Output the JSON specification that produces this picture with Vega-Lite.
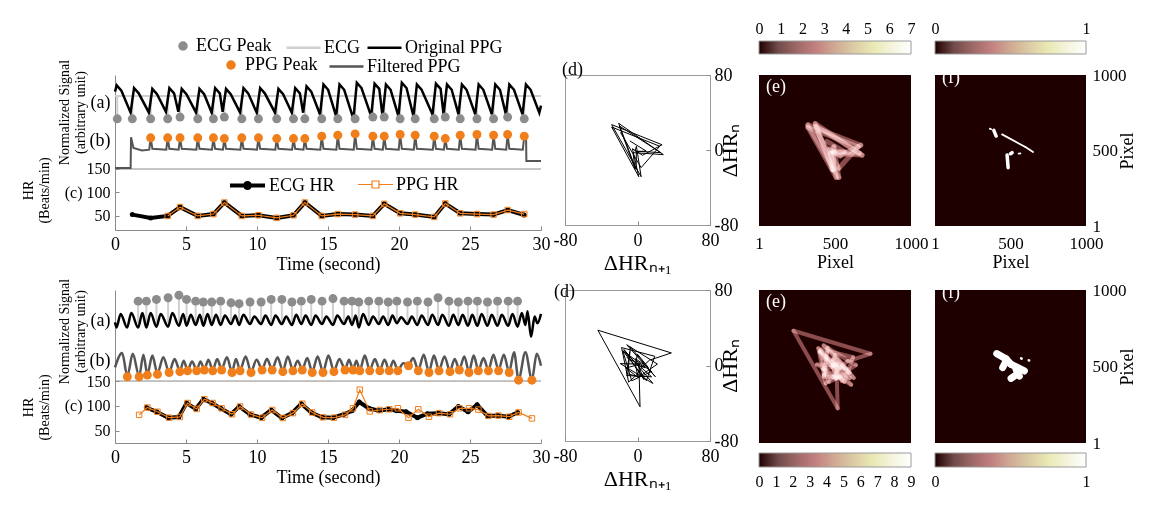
{
"$schema": "https://vega.github.io/schema/vega-lite/v6.json",
"padding": {"left": 21, "top": 20, "right": 5, "bottom": 5},
"background": "white",
"config": {
  "font": "Liberation Serif",
  "view": {"stroke": null},
  "axis": {"labelFont": "Liberation Serif", "titleFont": "Liberation Serif", "labelColor": "#000000", "titleColor": "#000000", "titleFontWeight": "normal", "domainColor": "#8a8a8a", "tickColor": "#8a8a8a", "grid": false, "labelFontSize": 16, "titleFontSize": 17, "labelFlush": false, "tickSize": -4, "labelPadding": 8},
  "legend": {"labelFont": "Liberation Serif", "labelFontSize": 18, "labelColor": "#000000"},
  "title": {"font": "Liberation Serif", "fontWeight": "normal", "fontSize": 18, "anchor": "start", "frame": "group", "color": "#000000"}
},
"datasets": {
  "sep": [{"t":0,"v":0},{"t":30,"v":0}],
  "e1ln": [{"t":0,"v":8.3},{"t":30,"v":8.3}],
  "e1pk": [{"t":0.16,"v":5.7},{"t":1.22,"v":5.7},{"t":2.51,"v":5.7},{"t":3.71,"v":5.7},{"t":4.58,"v":5.9},{"t":5.83,"v":5.7},{"t":6.93,"v":5.7},{"t":7.7,"v":5.9},{"t":8.93,"v":5.7},{"t":10.1,"v":5.7},{"t":11.39,"v":5.7},{"t":12.57,"v":5.7},{"t":13.37,"v":5.7},{"t":14.56,"v":5.7},{"t":15.69,"v":5.7},{"t":16.91,"v":5.7},{"t":18.16,"v":5.9},{"t":18.96,"v":5.9},{"t":20.08,"v":5.7},{"t":21.14,"v":5.7},{"t":22.48,"v":5.7},{"t":23.26,"v":5.9},{"t":24.31,"v":5.7},{"t":25.49,"v":5.7},{"t":26.66,"v":5.7},{"t":27.65,"v":5.9},{"t":28.82,"v":5.7}],
  "o1": [{"t":0,"v":8.8},{"t":0.12,"v":9.5},{"t":0.45,"v":8.9},{"t":1.1,"v":6.4},{"t":1.34,"v":9.2},{"t":1.67,"v":8.6},{"t":2.39,"v":6.4},{"t":2.63,"v":9.1},{"t":2.96,"v":8.5},{"t":3.59,"v":6.5},{"t":3.83,"v":9.2},{"t":4.16,"v":8.6},{"t":4.46,"v":6.5},{"t":4.7,"v":9.1},{"t":5.03,"v":8.5},{"t":5.71,"v":6.4},{"t":5.95,"v":9.1},{"t":6.28,"v":8.5},{"t":6.81,"v":6.4},{"t":7.05,"v":9.2},{"t":7.38,"v":8.6},{"t":7.58,"v":6.5},{"t":7.82,"v":9.1},{"t":8.15,"v":8.5},{"t":8.81,"v":6.4},{"t":9.05,"v":9.2},{"t":9.38,"v":8.6},{"t":9.98,"v":6.4},{"t":10.22,"v":9.2},{"t":10.55,"v":8.6},{"t":11.27,"v":6.4},{"t":11.51,"v":9.1},{"t":11.84,"v":8.5},{"t":12.45,"v":6.4},{"t":12.69,"v":9.2},{"t":13.02,"v":8.6},{"t":13.25,"v":6.4},{"t":13.49,"v":9.4},{"t":13.82,"v":8.8},{"t":14.44,"v":6.2},{"t":14.68,"v":9.6},{"t":15.01,"v":9.0},{"t":15.57,"v":6.0},{"t":15.81,"v":9.6},{"t":16.14,"v":9.0},{"t":16.79,"v":5.7},{"t":17.03,"v":9.8},{"t":17.36,"v":9.2},{"t":18.04,"v":6.0},{"t":18.28,"v":9.7},{"t":18.61,"v":9.1},{"t":18.84,"v":6.0},{"t":19.08,"v":9.6},{"t":19.41,"v":9.0},{"t":19.96,"v":6.0},{"t":20.2,"v":9.8},{"t":20.53,"v":9.2},{"t":21.02,"v":6.0},{"t":21.26,"v":9.6},{"t":21.59,"v":9.0},{"t":22.36,"v":6.2},{"t":22.6,"v":9.7},{"t":22.93,"v":9.1},{"t":23.14,"v":6.2},{"t":23.38,"v":9.6},{"t":23.71,"v":9.0},{"t":24.19,"v":6.2},{"t":24.43,"v":9.6},{"t":24.76,"v":9.0},{"t":25.37,"v":6.2},{"t":25.61,"v":9.6},{"t":25.94,"v":9.0},{"t":26.54,"v":6.2},{"t":26.78,"v":9.6},{"t":27.11,"v":9.0},{"t":27.53,"v":6.2},{"t":27.77,"v":9.6},{"t":28.1,"v":9.0},{"t":28.7,"v":6.2},{"t":28.94,"v":9.6},{"t":29.27,"v":9.0},{"t":29.88,"v":6.4},{"t":30,"v":7.2}],
  "f1": [{"t":0,"v":0.1},{"t":1.1,"v":0.1},{"t":1.13,"v":3.6},{"t":1.3,"v":2.4},{"t":1.9,"v":2.1},{"t":2.41,"v":2.2},{"t":2.51,"v":3.54},{"t":2.63,"v":2.3},{"t":3.61,"v":2.2},{"t":3.71,"v":3.54},{"t":3.83,"v":2.3},{"t":4.48,"v":2.2},{"t":4.58,"v":3.54},{"t":4.7,"v":2.3},{"t":5.73,"v":2.2},{"t":5.83,"v":3.54},{"t":5.95,"v":2.3},{"t":6.83,"v":2.2},{"t":6.93,"v":3.54},{"t":7.05,"v":2.3},{"t":7.6,"v":2.2},{"t":7.7,"v":3.46},{"t":7.82,"v":2.3},{"t":8.83,"v":2.2},{"t":8.93,"v":3.54},{"t":9.05,"v":2.3},{"t":10.0,"v":2.2},{"t":10.1,"v":3.54},{"t":10.22,"v":2.3},{"t":11.29,"v":2.2},{"t":11.39,"v":3.46},{"t":11.51,"v":2.3},{"t":12.47,"v":2.2},{"t":12.57,"v":3.46},{"t":12.69,"v":2.3},{"t":13.27,"v":2.2},{"t":13.37,"v":3.46},{"t":13.49,"v":2.3},{"t":14.46,"v":2.2},{"t":14.56,"v":3.73},{"t":14.68,"v":2.3},{"t":15.59,"v":2.2},{"t":15.69,"v":3.84},{"t":15.81,"v":2.3},{"t":16.81,"v":2.2},{"t":16.91,"v":3.99},{"t":17.03,"v":2.3},{"t":18.06,"v":2.2},{"t":18.16,"v":3.73},{"t":18.28,"v":2.3},{"t":18.86,"v":2.2},{"t":18.96,"v":3.73},{"t":19.08,"v":2.3},{"t":19.98,"v":2.2},{"t":20.08,"v":3.92},{"t":20.2,"v":2.3},{"t":21.04,"v":2.2},{"t":21.14,"v":3.84},{"t":21.26,"v":2.3},{"t":22.38,"v":2.2},{"t":22.48,"v":3.73},{"t":22.6,"v":2.3},{"t":23.16,"v":2.2},{"t":23.26,"v":3.46},{"t":23.38,"v":2.3},{"t":24.21,"v":2.2},{"t":24.31,"v":3.84},{"t":24.43,"v":2.3},{"t":25.39,"v":2.2},{"t":25.49,"v":3.92},{"t":25.61,"v":2.3},{"t":26.56,"v":2.2},{"t":26.66,"v":3.84},{"t":26.78,"v":2.3},{"t":27.55,"v":2.2},{"t":27.65,"v":3.92},{"t":27.77,"v":2.3},{"t":28.72,"v":2.2},{"t":28.82,"v":3.73},{"t":28.95,"v":3.5},{"t":28.97,"v":0.9},{"t":30,"v":0.9}],
  "p1pk": [{"t":2.51,"v":3.54},{"t":3.71,"v":3.54},{"t":4.58,"v":3.54},{"t":5.83,"v":3.54},{"t":6.93,"v":3.54},{"t":7.7,"v":3.46},{"t":8.93,"v":3.54},{"t":10.1,"v":3.54},{"t":11.39,"v":3.46},{"t":12.57,"v":3.46},{"t":13.37,"v":3.46},{"t":14.56,"v":3.73},{"t":15.69,"v":3.84},{"t":16.91,"v":3.99},{"t":18.16,"v":3.73},{"t":18.96,"v":3.73},{"t":20.08,"v":3.92},{"t":21.14,"v":3.84},{"t":22.48,"v":3.73},{"t":23.26,"v":3.46},{"t":24.31,"v":3.84},{"t":25.49,"v":3.92},{"t":26.66,"v":3.84},{"t":27.65,"v":3.92},{"t":28.82,"v":3.73}],
  "e2pk": [{"t":1.63,"v":9.4},{"t":2.21,"v":9.4},{"t":2.92,"v":9.6},{"t":3.74,"v":9.8},{"t":4.5,"v":10.1},{"t":5.04,"v":9.6},{"t":5.68,"v":9.4},{"t":6.22,"v":9.3},{"t":6.81,"v":9.3},{"t":7.44,"v":9.4},{"t":8.17,"v":9.2},{"t":8.74,"v":9.1},{"t":9.51,"v":9.3},{"t":10.29,"v":9.3},{"t":11.0,"v":9.6},{"t":11.75,"v":9.6},{"t":12.46,"v":9.3},{"t":13.12,"v":9.4},{"t":13.82,"v":9.6},{"t":14.58,"v":9.4},{"t":15.35,"v":9.7},{"t":16.13,"v":9.4},{"t":16.69,"v":9.4},{"t":17.17,"v":9.3},{"t":17.87,"v":9.4},{"t":18.58,"v":9.4},{"t":19.24,"v":9.3},{"t":19.85,"v":9.4},{"t":20.6,"v":9.3},{"t":21.29,"v":9.4},{"t":22.04,"v":9.3},{"t":22.75,"v":9.8},{"t":23.52,"v":9.4},{"t":24.18,"v":9.3},{"t":24.86,"v":9.4},{"t":25.52,"v":9.4},{"t":26.23,"v":9.3},{"t":26.94,"v":9.4},{"t":27.69,"v":9.4},{"t":28.35,"v":9.4}],
  "o2": [{"t":0,"v":6.9},{"t":0.1,"v":6.3},{"t":0.4,"v":7.9},{"t":0.85,"v":6.3},{"t":1.15,"v":8.0},{"t":1.63,"v":6.3},{"t":1.93,"v":8.0},{"t":2.21,"v":6.3},{"t":2.51,"v":8.0},{"t":2.92,"v":6.4},{"t":3.22,"v":7.9},{"t":3.74,"v":6.4},{"t":4.04,"v":8.0},{"t":4.5,"v":6.5},{"t":4.8,"v":7.9},{"t":5.04,"v":6.5},{"t":5.34,"v":7.8},{"t":5.68,"v":6.6},{"t":5.98,"v":7.8},{"t":6.22,"v":6.5},{"t":6.52,"v":7.9},{"t":6.81,"v":6.6},{"t":7.11,"v":7.8},{"t":7.44,"v":6.6},{"t":7.74,"v":7.7},{"t":8.17,"v":6.7},{"t":8.47,"v":7.7},{"t":8.74,"v":6.6},{"t":9.04,"v":7.8},{"t":9.51,"v":6.7},{"t":9.81,"v":7.6},{"t":10.29,"v":6.7},{"t":10.59,"v":7.7},{"t":11.0,"v":6.6},{"t":11.3,"v":7.7},{"t":11.75,"v":6.7},{"t":12.05,"v":7.6},{"t":12.46,"v":6.6},{"t":12.76,"v":7.8},{"t":13.12,"v":6.7},{"t":13.42,"v":7.7},{"t":13.82,"v":6.6},{"t":14.12,"v":7.7},{"t":14.58,"v":6.7},{"t":14.88,"v":7.6},{"t":15.35,"v":6.6},{"t":15.65,"v":7.7},{"t":16.13,"v":6.7},{"t":16.43,"v":7.6},{"t":16.69,"v":6.6},{"t":16.95,"v":7.7},{"t":17.17,"v":6.3},{"t":17.47,"v":7.9},{"t":17.87,"v":6.6},{"t":18.17,"v":7.6},{"t":18.58,"v":6.7},{"t":18.88,"v":7.6},{"t":19.24,"v":6.6},{"t":19.54,"v":7.7},{"t":19.85,"v":6.8},{"t":20.15,"v":7.5},{"t":20.6,"v":6.7},{"t":20.9,"v":7.6},{"t":21.29,"v":6.6},{"t":21.59,"v":7.7},{"t":22.04,"v":6.6},{"t":22.34,"v":7.8},{"t":22.75,"v":6.6},{"t":23.05,"v":7.8},{"t":23.52,"v":6.5},{"t":23.82,"v":7.8},{"t":24.18,"v":6.6},{"t":24.48,"v":7.8},{"t":24.86,"v":6.5},{"t":25.16,"v":7.8},{"t":25.52,"v":6.5},{"t":25.82,"v":7.9},{"t":26.23,"v":6.5},{"t":26.53,"v":7.8},{"t":26.94,"v":6.5},{"t":27.24,"v":7.8},{"t":27.69,"v":6.5},{"t":27.99,"v":7.9},{"t":28.35,"v":6.4},{"t":28.65,"v":8.0},{"t":28.9,"v":6.6},{"t":29.05,"v":8.2},{"t":29.3,"v":5.2},{"t":29.55,"v":7.6},{"t":29.75,"v":6.8},{"t":30,"v":7.9}],
  "f2": [{"t":0,"v":1.6},{"t":0.5,"v":3.3},{"t":0.87,"v":0.6},{"t":1.25,"v":3.2},{"t":1.7,"v":0.6},{"t":2.0,"v":3.1},{"t":2.28,"v":0.8},{"t":2.63,"v":3.0},{"t":2.99,"v":0.9},{"t":3.4,"v":2.8},{"t":3.81,"v":1.1},{"t":4.2,"v":2.6},{"t":4.57,"v":1.2},{"t":4.84,"v":2.4},{"t":5.11,"v":1.3},{"t":5.43,"v":2.3},{"t":5.75,"v":1.3},{"t":6.02,"v":2.3},{"t":6.29,"v":1.4},{"t":6.58,"v":2.5},{"t":6.88,"v":1.3},{"t":7.2,"v":2.6},{"t":7.51,"v":1.4},{"t":7.88,"v":2.8},{"t":8.24,"v":1.1},{"t":8.52,"v":2.6},{"t":8.81,"v":1.3},{"t":9.2,"v":2.9},{"t":9.58,"v":1.1},{"t":9.97,"v":2.5},{"t":10.36,"v":1.4},{"t":10.7,"v":2.6},{"t":11.07,"v":1.4},{"t":11.45,"v":2.8},{"t":11.82,"v":1.2},{"t":12.17,"v":2.9},{"t":12.53,"v":1.3},{"t":12.86,"v":2.4},{"t":13.19,"v":1.4},{"t":13.54,"v":2.7},{"t":13.89,"v":1.1},{"t":14.27,"v":2.9},{"t":14.65,"v":1.1},{"t":15.03,"v":3.0},{"t":15.42,"v":1.2},{"t":15.8,"v":2.6},{"t":16.2,"v":1.4},{"t":16.48,"v":2.5},{"t":16.76,"v":1.4},{"t":17.0,"v":2.4},{"t":17.24,"v":1.3},{"t":17.59,"v":3.0},{"t":17.94,"v":1.3},{"t":18.3,"v":2.6},{"t":18.65,"v":1.3},{"t":18.98,"v":2.5},{"t":19.31,"v":1.3},{"t":19.6,"v":2.4},{"t":19.92,"v":1.3},{"t":20.3,"v":2.1},{"t":20.67,"v":1.9},{"t":21.0,"v":2.7},{"t":21.36,"v":1.3},{"t":21.74,"v":3.1},{"t":22.11,"v":1.1},{"t":22.46,"v":3.0},{"t":22.82,"v":1.3},{"t":23.2,"v":2.9},{"t":23.59,"v":1.2},{"t":23.92,"v":2.6},{"t":24.25,"v":1.4},{"t":24.6,"v":2.9},{"t":24.93,"v":1.1},{"t":25.26,"v":3.0},{"t":25.59,"v":1.3},{"t":25.95,"v":2.7},{"t":26.3,"v":1.3},{"t":26.65,"v":3.1},{"t":27.01,"v":1.3},{"t":27.38,"v":3.1},{"t":27.76,"v":1.1},{"t":28.1,"v":3.4},{"t":28.42,"v":0.2},{"t":28.9,"v":3.4},{"t":29.36,"v":0.2},{"t":29.7,"v":3.2},{"t":30,"v":1.8}],
  "p2pk": [{"t":0.87,"v":0.5},{"t":1.7,"v":0.5},{"t":2.28,"v":0.7},{"t":2.99,"v":0.8},{"t":3.81,"v":1.0},{"t":4.57,"v":1.1},{"t":5.11,"v":1.2},{"t":5.75,"v":1.2},{"t":6.29,"v":1.3},{"t":6.88,"v":1.2},{"t":7.51,"v":1.3},{"t":8.24,"v":1.0},{"t":8.81,"v":1.2},{"t":9.58,"v":1.0},{"t":10.36,"v":1.3},{"t":11.07,"v":1.3},{"t":11.82,"v":1.1},{"t":12.53,"v":1.2},{"t":13.19,"v":1.3},{"t":13.89,"v":1.0},{"t":14.65,"v":1.0},{"t":15.42,"v":1.1},{"t":16.2,"v":1.3},{"t":16.76,"v":1.3},{"t":17.24,"v":1.2},{"t":17.94,"v":1.2},{"t":18.65,"v":1.2},{"t":19.31,"v":1.2},{"t":19.92,"v":1.2},{"t":20.67,"v":1.8},{"t":21.36,"v":1.2},{"t":22.11,"v":1.0},{"t":22.82,"v":1.2},{"t":23.59,"v":1.1},{"t":24.25,"v":1.3},{"t":24.93,"v":1.0},{"t":25.59,"v":1.2},{"t":26.3,"v":1.2},{"t":27.01,"v":1.2},{"t":27.76,"v":1.0},{"t":28.42,"v":0.1},{"t":29.36,"v":0.1}],
  "h1e": [{"t":1.22,"v":52.8},{"t":2.51,"v":45.8},{"t":3.71,"v":50},{"t":4.58,"v":68.8},{"t":5.83,"v":50},{"t":6.93,"v":54},{"t":7.7,"v":78.5},{"t":8.93,"v":50},{"t":10.1,"v":51.4},{"t":11.39,"v":45.8},{"t":12.57,"v":51.4},{"t":13.37,"v":78.5},{"t":14.56,"v":50},{"t":15.69,"v":54},{"t":16.91,"v":52.8},{"t":18.16,"v":50},{"t":18.96,"v":75.7},{"t":20.08,"v":55.6},{"t":21.14,"v":52.8},{"t":22.48,"v":47.9},{"t":23.26,"v":76.4},{"t":24.31,"v":55.6},{"t":25.49,"v":54},{"t":26.66,"v":52.8},{"t":27.65,"v":62.5},{"t":28.82,"v":52}],
  "h1p": [{"t":3.71,"v":50},{"t":4.58,"v":68.8},{"t":5.83,"v":50},{"t":6.93,"v":54},{"t":7.7,"v":78.5},{"t":8.93,"v":50},{"t":10.1,"v":51.4},{"t":11.39,"v":45.8},{"t":12.57,"v":51.4},{"t":13.37,"v":78.5},{"t":14.56,"v":50},{"t":15.69,"v":54},{"t":16.91,"v":52.8},{"t":18.16,"v":50},{"t":18.96,"v":75.7},{"t":20.08,"v":55.6},{"t":21.14,"v":52.8},{"t":22.48,"v":47.9},{"t":23.26,"v":76.4},{"t":24.31,"v":55.6},{"t":25.49,"v":54},{"t":26.66,"v":52.8},{"t":27.65,"v":62.5},{"t":28.82,"v":54}],
  "h2e": [{"t":2.21,"v":96.5},{"t":2.93,"v":88},{"t":3.74,"v":76},{"t":4.5,"v":77.5},{"t":5.04,"v":105.6},{"t":5.68,"v":93.7},{"t":6.22,"v":113.4},{"t":6.81,"v":105.6},{"t":7.44,"v":95},{"t":8.17,"v":83},{"t":8.74,"v":98.6},{"t":9.51,"v":82.4},{"t":10.29,"v":76},{"t":11.0,"v":91.5},{"t":11.75,"v":75.4},{"t":12.46,"v":85.2},{"t":13.12,"v":104.2},{"t":13.82,"v":86.6},{"t":14.58,"v":76.8},{"t":15.35,"v":76},{"t":16.13,"v":83},{"t":16.69,"v":90},{"t":17.2,"v":107.7},{"t":17.87,"v":95},{"t":18.58,"v":90},{"t":19.24,"v":93},{"t":19.85,"v":90},{"t":20.5,"v":88},{"t":21.3,"v":76},{"t":22.0,"v":84},{"t":22.75,"v":85.2},{"t":23.52,"v":83},{"t":24.18,"v":98.6},{"t":24.86,"v":88},{"t":25.5,"v":102},{"t":26.23,"v":79.6},{"t":26.94,"v":80.3},{"t":27.69,"v":78},{"t":28.35,"v":86.6}],
  "h2p": [{"t":1.7,"v":81.7},{"t":2.28,"v":96.5},{"t":2.99,"v":88},{"t":3.81,"v":76},{"t":4.57,"v":77.5},{"t":5.11,"v":105.6},{"t":5.75,"v":93.7},{"t":6.29,"v":113.4},{"t":6.88,"v":105.6},{"t":7.51,"v":95},{"t":8.24,"v":83},{"t":8.81,"v":98.6},{"t":9.58,"v":82.4},{"t":10.36,"v":76},{"t":11.07,"v":91.5},{"t":11.82,"v":75.4},{"t":12.53,"v":85.2},{"t":13.19,"v":104.2},{"t":13.89,"v":86.6},{"t":14.65,"v":76.8},{"t":15.42,"v":76},{"t":16.2,"v":81.7},{"t":16.76,"v":95},{"t":17.24,"v":132.4},{"t":17.94,"v":88.7},{"t":18.65,"v":91.5},{"t":19.31,"v":93},{"t":19.92,"v":95},{"t":20.67,"v":76},{"t":21.36,"v":93},{"t":22.11,"v":78},{"t":22.82,"v":85.2},{"t":23.59,"v":83},{"t":24.25,"v":95},{"t":24.93,"v":95},{"t":25.59,"v":92.3},{"t":26.3,"v":79.6},{"t":27.01,"v":80.3},{"t":27.76,"v":78},{"t":28.42,"v":86.6},{"t":29.36,"v":74.6}],
  "pc1": [{"x":-18.8,"y":18.8,"x2":4,"y2":-18.8},{"x":4,"y":-18.8,"x2":24.5,"y2":4},{"x":24.5,"y":4,"x2":-28.5,"y2":24.5},{"x":-28.5,"y":24.5,"x2":1.4,"y2":-28.5},{"x":1.4,"y":-28.5,"x2":-5.6,"y2":1.4},{"x":-5.6,"y":1.4,"x2":5.6,"y2":-5.6},{"x":5.6,"y":-5.6,"x2":27.1,"y2":5.6},{"x":27.1,"y":5.6,"x2":-28.5,"y2":27.1},{"x":-28.5,"y":27.1,"x2":4,"y2":-28.5},{"x":4,"y":-28.5,"x2":-1.2,"y2":4},{"x":-1.2,"y":4,"x2":-2.8,"y2":-1.2},{"x":-2.8,"y":-1.2,"x2":25.7,"y2":-2.8},{"x":25.7,"y":-2.8,"x2":-20.1,"y2":25.7},{"x":-20.1,"y":25.7,"x2":-2.8,"y2":-20.1},{"x":-2.8,"y":-20.1,"x2":-4.9,"y2":-2.8},{"x":-4.9,"y":-2.8,"x2":28.5,"y2":-4.9},{"x":28.5,"y":-4.9,"x2":-20.8,"y2":28.5},{"x":-20.8,"y":28.5,"x2":-1.6,"y2":-20.8},{"x":-1.6,"y":-20.8,"x2":-1.2,"y2":-1.6},{"x":-1.2,"y":-1.6,"x2":9.7,"y2":-1.2},{"x":9.7,"y":-1.2,"x2":-8.5,"y2":9.7}],
  "pc2": [{"x":-8.5,"y":14.8,"x2":-12,"y2":-8.5},{"x":-12,"y":-8.5,"x2":1.5,"y2":-12},{"x":1.5,"y":-12,"x2":22,"y2":1.5},{"x":22,"y":1.5,"x2":-11.9,"y2":22},{"x":-11.9,"y":22,"x2":19.7,"y2":-11.9},{"x":19.7,"y":-11.9,"x2":-7.8,"y2":19.7},{"x":-7.8,"y":19.7,"x2":-10.6,"y2":-7.8},{"x":-10.6,"y":-7.8,"x2":-12,"y2":-10.6},{"x":-12,"y":-10.6,"x2":15.6,"y2":-12},{"x":15.6,"y":-12,"x2":-16.2,"y2":15.6},{"x":-16.2,"y":15.6,"x2":-6.4,"y2":-16.2},{"x":-6.4,"y":-16.2,"x2":15.5,"y2":-6.4},{"x":15.5,"y":-6.4,"x2":-16.1,"y2":15.5},{"x":-16.1,"y":15.5,"x2":9.8,"y2":-16.1},{"x":9.8,"y":-16.1,"x2":19,"y2":9.8},{"x":19,"y":9.8,"x2":-17.6,"y2":19},{"x":-17.6,"y":19,"x2":-9.8,"y2":-17.6},{"x":-9.8,"y":-17.6,"x2":-0.8,"y2":-9.8},{"x":-0.8,"y":-9.8,"x2":5.7,"y2":-0.8},{"x":5.7,"y":-0.8,"x2":13.3,"y2":5.7},{"x":13.3,"y":5.7,"x2":37.4,"y2":13.3},{"x":37.4,"y":13.3,"x2":-43.7,"y2":37.4},{"x":-43.7,"y":37.4,"x2":2.8,"y2":-43.7},{"x":2.8,"y":-43.7,"x2":1.5,"y2":2.8},{"x":1.5,"y":2.8,"x2":2,"y2":1.5},{"x":2,"y":1.5,"x2":-19,"y2":2},{"x":-19,"y":2,"x2":17,"y2":-19},{"x":17,"y":-19,"x2":-15,"y2":17},{"x":-15,"y":17,"x2":7.2,"y2":-15},{"x":7.2,"y":-15,"x2":-2.2,"y2":7.2},{"x":-2.2,"y":7.2,"x2":12,"y2":-2.2},{"x":12,"y":-2.2,"x2":0,"y2":12},{"x":0,"y":12,"x2":-2.7,"y2":0},{"x":-2.7,"y":0,"x2":-12.7,"y2":-2.7},{"x":-12.7,"y":-2.7,"x2":0.7,"y2":-12.7},{"x":0.7,"y":-12.7,"x2":-2.3,"y2":0.7},{"x":-2.3,"y":0.7,"x2":8.6,"y2":-2.3},{"x":8.6,"y":-2.3,"x2":-12,"y2":8.6}],
  "fa_thin": [{"x":-8.9,"y":17.1,"x2":15.8,"y2":3.7},{"x":15.8,"y":3.7,"x2":23.9,"y2":-1.6},{"x":8.7,"y":-3.4,"x2":10.5,"y2":-3.0},{"x":-21.9,"y":23.1,"x2":-20.5,"y2":22.5}],
  "fa_thick": [{"x":-17.7,"y":21.3,"x2":-15.2,"y2":15.3},{"x":-3.6,"y":-4.8,"x2":-2.5,"y2":-18.2},{"x":0,"y":-3.4,"x2":1.7,"y2":-2.3}],
  "fb_thick": [{"x":-14.6,"y":13.5,"x2":-4.7,"y2":8},{"x":-4.7,"y":8,"x2":0.6,"y2":2.3},{"x":-8.3,"y":-1.2,"x2":-5,"y2":5},{"x":0.6,"y":2.3,"x2":14.7,"y2":-4.7},{"x":5.9,"y":-3,"x2":9.4,"y2":-10},{"x":0.6,"y":-12.4,"x2":4,"y2":-10}],
  "fb_thin": [{"x":11.2,"y":8.6,"x2":11.8,"y2":8.2},{"x":19.3,"y":6.5,"x2":19.8,"y2":6.3}],
  "cb7": [{"lo":0,"hi":7}],
  "cb9": [{"lo":0,"hi":9}],
  "cb1": [{"lo":0,"hi":1}]
},
"concat": [
  {"width": 1, "height": 1, "data": {"values": []}, "mark": "point"},
  {"width": 1, "height": 1, "data": {"values": []}, "mark": "point"},
  {"width": 1, "height": 1, "data": {"values": []}, "mark": "point"},
  {
    "width": 152, "height": 13,
    "data": {"name": "cb7"},
    "mark": {"type": "rect", "stroke": "#9a9a9a", "strokeWidth": 1, "fill": {"gradient": "linear", "x1": 0, "x2": 1, "y1": 0, "y2": 0, "stops": [{"offset": 0, "color": "#1e0000"}, {"offset": 0.125, "color": "#714a4a"}, {"offset": 0.25, "color": "#9f6868"}, {"offset": 0.375, "color": "#c38080"}, {"offset": 0.5, "color": "#d0aa93"}, {"offset": 0.625, "color": "#dccca5"}, {"offset": 0.75, "color": "#e9e9b4"}, {"offset": 0.875, "color": "#f4f4dd"}, {"offset": 1, "color": "#ffffff"}]}},
    "encoding": {
      "x": {"field": "lo", "type": "quantitative", "scale": {"domain": [0, 7], "nice": false, "zero": false}, "axis": {"orient": "top", "values": [0,1,2,3,4,5,6,7], "format": "d", "labelFlush": false, "title": null, "domain": false, "ticks": false, "labelFontSize": 16, "labelPadding": 5}},
      "x2": {"field": "hi"}
    }
  },
  {
    "width": 151, "height": 13,
    "data": {"name": "cb1"},
    "mark": {"type": "rect", "stroke": "#9a9a9a", "strokeWidth": 1, "fill": {"gradient": "linear", "x1": 0, "x2": 1, "y1": 0, "y2": 0, "stops": [{"offset": 0, "color": "#1e0000"}, {"offset": 0.125, "color": "#714a4a"}, {"offset": 0.25, "color": "#9f6868"}, {"offset": 0.375, "color": "#c38080"}, {"offset": 0.5, "color": "#d0aa93"}, {"offset": 0.625, "color": "#dccca5"}, {"offset": 0.75, "color": "#e9e9b4"}, {"offset": 0.875, "color": "#f4f4dd"}, {"offset": 1, "color": "#ffffff"}]}},
    "encoding": {
      "x": {"field": "lo", "type": "quantitative", "scale": {"domain": [0, 1], "nice": false, "zero": false}, "axis": {"orient": "top", "values": [0, 1], "format": "d", "labelFlush": false, "title": null, "domain": false, "ticks": false, "labelFontSize": 16, "labelPadding": 5}},
      "x2": {"field": "hi"}
    }
  },

  {"width": 1, "height": 1, "data": {"values": []}, "mark": "point"},
  {"width": 1, "height": 1, "data": {"values": []}, "mark": "point"},
  {"width": 1, "height": 1, "data": {"values": []}, "mark": "point"},
  {"width": 1, "height": 1, "data": {"values": []}, "mark": "point"},
  {"width": 1, "height": 1, "data": {"values": []}, "mark": "point"},

  {
    "width": 426, "height": 155,
    "layer": [
      {
        "encoding": {
          "x": {"field": "t", "type": "quantitative", "scale": {"domain": [0, 30], "nice": false, "zero": false}, "axis": {"values": [0,5,10,15,20,25,30], "labelFlush": false, "title": "Time (second)", "labelFontSize": 18, "titleFontSize": 18, "labelPadding": 9, "titlePadding": 2}},
          "y": {"field": "v", "type": "quantitative", "scale": {"domain": [-6.93, 10.68], "nice": false, "zero": false}, "axis": {"orient": "left", "values": [7.5, 3.2], "labelExpr": "datum.value > 5 ? '(a)' : '(b)'", "labelFontSize": 18, "ticks": false, "domain": false, "labelPadding": 5, "title": ["Normalized Signal", "(arbitrary unit)"], "titleFontSize": 14, "titlePadding": 2, "titleY": 37}}
        },
        "layer": [
          {"data": {"name": "sep"}, "mark": {"type": "line", "strokeWidth": 1, "color": "#8a8a8a"}, "encoding": {}},
          {"data": {"name": "e1ln"}, "mark": {"type": "line", "strokeWidth": 2},
           "encoding": {"stroke": {"datum": "ECG", "type": "nominal", "scale": {"domain": ["ECG", "Original PPG"], "range": ["#cfcfcf", "#000000"]},
             "legend": {"orient": "none", "legendX": 170, "legendY": -46, "direction": "horizontal", "title": null, "symbolType": "stroke", "symbolSize": 1156, "symbolStrokeWidth": 2.5, "labelOffset": 2, "columnPadding": 2, "labelFontSize": 18}}}},
          {"data": {"name": "e1pk"}, "mark": {"type": "rule", "color": "#cfcfcf", "strokeWidth": 2}, "encoding": {"y2": {"datum": 8.3}}},
          {"data": {"name": "o1"}, "mark": {"type": "line", "strokeWidth": 2.5},
           "encoding": {"stroke": {"datum": "Original PPG", "type": "nominal", "scale": {"domain": ["ECG", "Original PPG"], "range": ["#cfcfcf", "#000000"]}}}},
          {"data": {"name": "f1"}, "mark": {"type": "line", "strokeWidth": 2},
           "encoding": {"color": {"datum": "Filtered PPG", "type": "nominal", "scale": {"domain": ["Filtered PPG"], "range": ["#555555"]},
             "legend": {"orient": "none", "legendX": 213, "legendY": -27, "direction": "horizontal", "title": null, "symbolType": "stroke", "symbolSize": 1156, "symbolStrokeWidth": 2.5, "labelOffset": 2, "labelFontSize": 18}}}},
          {"data": {"name": "e1pk"}, "mark": {"type": "point", "filled": true, "size": 80, "opacity": 1},
           "encoding": {"fill": {"datum": "ECG Peak", "type": "nominal", "scale": {"domain": ["ECG Peak"], "range": ["#8c8c8c"]},
             "legend": {"orient": "none", "legendX": 59, "legendY": -38, "direction": "horizontal", "title": null, "symbolType": "circle", "symbolSize": 90, "symbolStrokeWidth": 0, "labelOffset": 4, "labelFontSize": 18}}}},
          {"data": {"name": "p1pk"}, "mark": {"type": "point", "filled": true, "color": "#f07e1b", "size": 80, "opacity": 1},
           "encoding": {"shape": {"datum": "PPG Peak", "type": "nominal", "scale": {"domain": ["PPG Peak"], "range": ["circle"]},
             "legend": {"orient": "none", "legendX": 107, "legendY": -19, "direction": "horizontal", "title": null, "symbolSize": 90, "symbolFillColor": "#f07e1b", "symbolStrokeWidth": 0, "labelOffset": 5, "labelFontSize": 18}}}}
        ]
      },
      {
        "encoding": {
          "x": {"field": "t", "type": "quantitative", "scale": {"domain": [0, 30], "nice": false, "zero": false}, "axis": {"values": [0,5,10,15,20,25,30], "labelFlush": false, "title": "Time (second)", "labelFontSize": 18, "titleFontSize": 18, "labelPadding": 9, "titlePadding": 2}},
          "y": {"field": "v", "type": "quantitative", "scale": {"domain": [20, 350.3], "nice": false, "zero": false}, "axis": {"orient": "left", "values": [50, 100, 150], "labelExpr": "datum.value == 100 ? '(c) 100' : datum.label", "labelFontSize": 16, "labelPadding": 9, "title": ["HR", "(Beats/min)"], "titleFontSize": 14, "titlePadding": 13, "titleY": 115}}
        },
        "layer": [
          {"data": {"name": "h1e"}, "mark": {"type": "line", "strokeWidth": 4},
           "encoding": {"color": {"datum": "ECG HR", "type": "nominal", "scale": {"domain": ["ECG HR"], "range": ["#000000"]},
             "legend": {"orient": "none", "legendX": 113, "legendY": 91, "direction": "horizontal", "title": null, "symbolType": "M-1,0H1M0.14,0A0.14,0.14,0,1,1,-0.14,0A0.14,0.14,0,1,1,0.14,0", "symbolSize": 1225, "symbolStrokeWidth": 4, "labelOffset": 2, "labelFontSize": 18}}}},
          {"data": {"name": "h1e"}, "mark": {"type": "point", "filled": true, "size": 25, "opacity": 1},
           "encoding": {"color": {"datum": "ECG HR", "type": "nominal", "scale": {"domain": ["ECG HR"], "range": ["#000000"]}}}},
          {"data": {"name": "h1p"}, "mark": {"type": "line", "strokeWidth": 1.2},
           "encoding": {"stroke": {"datum": "PPG HR", "type": "nominal", "scale": {"domain": ["PPG HR"], "range": ["#f07e1b"]},
             "legend": {"orient": "none", "legendX": 242, "legendY": 91, "direction": "horizontal", "title": null, "symbolType": "M-1,0H-0.2M0.2,0H1M-0.2,-0.2H0.2V0.2H-0.2Z", "symbolSize": 1225, "symbolStrokeWidth": 1.2, "labelOffset": 2, "labelFontSize": 18}}}},
          {"data": {"name": "h1p"}, "mark": {"type": "point", "shape": "square", "filled": false, "size": 30, "strokeWidth": 1, "opacity": 1},
           "encoding": {"stroke": {"datum": "PPG HR", "type": "nominal", "scale": {"domain": ["PPG HR"], "range": ["#f07e1b"]}}}}
        ]
      }
    ],
    "resolve": {"scale": {"y": "independent", "color": "independent", "stroke": "independent"}, "legend": {"color": "independent", "stroke": "independent"}}
  },
  {
    "width": 145, "height": 150,
    "title": {"text": "(d)", "offset": -13, "dx": -3},
    "view": {"stroke": "#9a9a9a"},
    "data": {"name": "pc1"},
    "mark": {"type": "rule", "color": "#000000", "strokeWidth": 1},
    "encoding": {
      "x": {"field": "x", "type": "quantitative", "scale": {"domain": [-80, 80], "nice": false, "zero": false}, "axis": {"values": [-80, 0, 80], "labelExpr": "datum.value < 0 ? '-80' : datum.label", "labelFlush": false, "domain": false, "labelFontSize": 18, "labelPadding": 10, "title": "ΔHRₙ₊₁", "titleFontSize": 22, "titlePadding": 3}},
      "y": {"field": "y", "type": "quantitative", "scale": {"domain": [-80, 80], "nice": false, "zero": false}, "axis": {"orient": "right", "values": [-80, 0, 80], "labelExpr": "datum.value < 0 ? '-80' : datum.label", "labelFlush": false, "domain": false, "labelFontSize": 18, "labelPadding": 8, "title": "ΔHRₙ", "titleFontSize": 22, "titleAngle": 270, "titlePadding": 4}},
      "x2": {"field": "x2"}, "y2": {"field": "y2"}
    }
  },
  {"width": 1, "height": 1, "data": {"values": []}, "mark": "point"},
  {
    "width": 152, "height": 151,
    "title": {"text": "(e)", "color": "#ffffff", "offset": -21, "dx": 7},
    "view": {"fill": "#1e0000", "stroke": null},
    "data": {"name": "pc1"},
    "mark": {"type": "rule", "color": "#7a4c4c", "strokeWidth": 5, "strokeCap": "round", "blend": "screen"},
    "encoding": {
      "x": {"field": "x", "type": "quantitative", "scale": {"domain": [-80, 80], "nice": false, "zero": false}, "axis": {"values": [-80, 0, 80], "labelExpr": "datum.value < -1 ? '1' : (datum.value > 1 ? '1000' : '500')", "labelFlush": false, "domain": false, "ticks": false, "labelFontSize": 17, "labelPadding": 9, "title": "Pixel", "titleFontSize": 18, "titlePadding": 2}},
      "y": {"field": "y", "type": "quantitative", "scale": {"domain": [-80, 80], "nice": false, "zero": false}, "axis": null},
      "x2": {"field": "x2"}, "y2": {"field": "y2"}
    }
  },
  {
    "width": 151, "height": 151,
    "title": {"text": "(f)", "color": "#ffffff", "offset": -21, "dx": 7},
    "view": {"fill": "#1e0000", "stroke": null},
    "encoding": {
      "x": {"field": "x", "type": "quantitative", "scale": {"domain": [-80, 80], "nice": false, "zero": false}, "axis": {"values": [-80, 0, 80], "labelExpr": "datum.value < -1 ? '1' : (datum.value > 1 ? '1000' : '500')", "labelFlush": false, "domain": false, "ticks": false, "labelFontSize": 17, "labelPadding": 9, "title": "Pixel", "titleFontSize": 18, "titlePadding": 2}},
      "y": {"field": "y", "type": "quantitative", "scale": {"domain": [-80, 80], "nice": false, "zero": false}, "axis": {"orient": "right", "values": [-80, 0, 80], "labelExpr": "datum.value < -1 ? '1' : (datum.value > 1 ? '1000' : '500')", "labelFlush": false, "domain": false, "ticks": false, "labelFontSize": 17, "labelPadding": 6, "title": "Pixel", "titleFontSize": 18, "titleAngle": 270, "titlePadding": 10}},
      "x2": {"field": "x2"}, "y2": {"field": "y2"}
    },
    "layer": [
      {"data": {"name": "fa_thin"}, "mark": {"type": "rule", "color": "#ffffff", "strokeWidth": 1.8, "strokeCap": "round"}},
      {"data": {"name": "fa_thick"}, "mark": {"type": "rule", "color": "#ffffff", "strokeWidth": 3.5, "strokeCap": "round"}}
    ]
  },

  {"width": 1, "height": 40, "data": {"values": []}, "mark": "point"},
  {"width": 1, "height": 1, "data": {"values": []}, "mark": "point"},
  {"width": 1, "height": 1, "data": {"values": []}, "mark": "point"},
  {"width": 1, "height": 1, "data": {"values": []}, "mark": "point"},
  {"width": 1, "height": 1, "data": {"values": []}, "mark": "point"},

  {
    "width": 426, "height": 153,
    "layer": [
      {
        "encoding": {
          "x": {"field": "t", "type": "quantitative", "scale": {"domain": [0, 30], "nice": false, "zero": false}, "axis": {"values": [0,5,10,15,20,25,30], "labelFlush": false, "title": "Time (second)", "labelFontSize": 18, "titleFontSize": 18, "labelPadding": 9, "titlePadding": 2}},
          "y": {"field": "v", "type": "quantitative", "scale": {"domain": [-7.29, 10.71], "nice": false, "zero": false}, "axis": {"orient": "left", "values": [7.1, 2.4], "labelExpr": "datum.value > 5 ? '(a)' : '(b)'", "labelFontSize": 18, "ticks": false, "domain": false, "labelPadding": 5, "title": ["Normalized Signal", "(arbitrary unit)"], "titleFontSize": 14, "titlePadding": 2, "titleY": 41}}
        },
        "layer": [
          {"data": {"name": "sep"}, "mark": {"type": "line", "strokeWidth": 1, "color": "#8a8a8a"}, "encoding": {}},
          {"data": {"name": "e2pk"}, "mark": {"type": "rule", "color": "#cfcfcf", "strokeWidth": 2}, "encoding": {"y2": {"datum": 6.8}}},
          {"data": {"name": "o2"}, "mark": {"type": "line", "strokeWidth": 2.5, "color": "#000000", "interpolate": "monotone"}, "encoding": {}},
          {"data": {"name": "f2"}, "mark": {"type": "line", "strokeWidth": 2.5, "color": "#555555", "interpolate": "monotone"}, "encoding": {}},
          {"data": {"name": "e2pk"}, "mark": {"type": "point", "filled": true, "size": 80, "opacity": 1, "color": "#8c8c8c"}},
          {"data": {"name": "p2pk"}, "mark": {"type": "point", "filled": true, "size": 80, "opacity": 1, "color": "#f07e1b"}}
        ]
      },
      {
        "encoding": {
          "x": {"field": "t", "type": "quantitative", "scale": {"domain": [0, 30], "nice": false, "zero": false}, "axis": {"values": [0,5,10,15,20,25,30], "labelFlush": false, "title": "Time (second)", "labelFontSize": 18, "titleFontSize": 18, "labelPadding": 9, "titlePadding": 2}},
          "y": {"field": "v", "type": "quantitative", "scale": {"domain": [25, 333.5], "nice": false, "zero": false}, "axis": {"orient": "left", "values": [50, 100, 150], "labelExpr": "datum.value == 100 ? '(c) 100' : datum.label", "labelFontSize": 16, "labelPadding": 9, "title": ["HR", "(Beats/min)"], "titleFontSize": 14, "titlePadding": 13, "titleY": 117}}
        },
        "layer": [
          {"data": {"name": "h2e"}, "mark": {"type": "line", "strokeWidth": 4, "color": "#000000"}, "encoding": {}},
          {"data": {"name": "h2e"}, "mark": {"type": "point", "filled": true, "size": 25, "opacity": 1, "color": "#000000"}},
          {"data": {"name": "h2p"}, "mark": {"type": "line", "strokeWidth": 1.2, "color": "#f07e1b"}, "encoding": {}},
          {"data": {"name": "h2p"}, "mark": {"type": "point", "shape": "square", "filled": false, "size": 30, "strokeWidth": 1, "opacity": 1, "color": "#f07e1b"}}
        ]
      }
    ],
    "resolve": {"scale": {"y": "independent"}}
  },
  {
    "width": 145, "height": 151,
    "title": {"text": "(d)", "offset": -20, "dx": -11},
    "view": {"stroke": "#9a9a9a"},
    "data": {"name": "pc2"},
    "mark": {"type": "rule", "color": "#000000", "strokeWidth": 1},
    "encoding": {
      "x": {"field": "x", "type": "quantitative", "scale": {"domain": [-80, 80], "nice": false, "zero": false}, "axis": {"values": [-80, 0, 80], "labelExpr": "datum.value < 0 ? '-80' : datum.label", "labelFlush": false, "domain": false, "labelFontSize": 18, "labelPadding": 10, "title": "ΔHRₙ₊₁", "titleFontSize": 22, "titlePadding": 3}},
      "y": {"field": "y", "type": "quantitative", "scale": {"domain": [-80, 80], "nice": false, "zero": false}, "axis": {"orient": "right", "values": [-80, 0, 80], "labelExpr": "datum.value < 0 ? '-80' : datum.label", "labelFlush": false, "domain": false, "labelFontSize": 18, "labelPadding": 8, "title": "ΔHRₙ", "titleFontSize": 22, "titleAngle": 270, "titlePadding": 4}},
      "x2": {"field": "x2"}, "y2": {"field": "y2"}
    }
  },
  {"width": 1, "height": 1, "data": {"values": []}, "mark": "point"},
  {
    "width": 152, "height": 153,
    "title": {"text": "(e)", "color": "#ffffff", "offset": -21, "dx": 7},
    "view": {"fill": "#1e0000", "stroke": null},
    "data": {"name": "pc2"},
    "mark": {"type": "rule", "color": "#7a4c4c", "strokeWidth": 4, "strokeCap": "round", "blend": "screen"},
    "encoding": {
      "x": {"field": "x", "type": "quantitative", "scale": {"domain": [-80, 80], "nice": false, "zero": false}, "axis": null},
      "y": {"field": "y", "type": "quantitative", "scale": {"domain": [-80, 80], "nice": false, "zero": false}, "axis": null},
      "x2": {"field": "x2"}, "y2": {"field": "y2"}
    }
  },
  {
    "width": 151, "height": 153,
    "title": {"text": "(f)", "color": "#ffffff", "offset": -21, "dx": 7},
    "view": {"fill": "#1e0000", "stroke": null},
    "encoding": {
      "x": {"field": "x", "type": "quantitative", "scale": {"domain": [-80, 80], "nice": false, "zero": false}, "axis": null},
      "y": {"field": "y", "type": "quantitative", "scale": {"domain": [-80, 80], "nice": false, "zero": false}, "axis": {"orient": "right", "values": [-80, 0, 80], "labelExpr": "datum.value < -1 ? '1' : (datum.value > 1 ? '1000' : '500')", "labelFlush": false, "domain": false, "ticks": false, "labelFontSize": 17, "labelPadding": 6, "title": "Pixel", "titleFontSize": 18, "titleAngle": 270, "titlePadding": 10}},
      "x2": {"field": "x2"}, "y2": {"field": "y2"}
    },
    "layer": [
      {"data": {"name": "fb_thin"}, "mark": {"type": "rule", "color": "#ffffff", "strokeWidth": 2.5, "strokeCap": "round"}},
      {"data": {"name": "fb_thick"}, "mark": {"type": "rule", "color": "#ffffff", "strokeWidth": 7, "strokeCap": "round"}}
    ]
  },

  {"width": 1, "height": 1, "data": {"values": []}, "mark": "point"},
  {"width": 1, "height": 1, "data": {"values": []}, "mark": "point"},
  {"width": 1, "height": 1, "data": {"values": []}, "mark": "point"},
  {
    "width": 152, "height": 14,
    "data": {"name": "cb9"},
    "mark": {"type": "rect", "stroke": "#9a9a9a", "strokeWidth": 1, "fill": {"gradient": "linear", "x1": 0, "x2": 1, "y1": 0, "y2": 0, "stops": [{"offset": 0, "color": "#1e0000"}, {"offset": 0.125, "color": "#714a4a"}, {"offset": 0.25, "color": "#9f6868"}, {"offset": 0.375, "color": "#c38080"}, {"offset": 0.5, "color": "#d0aa93"}, {"offset": 0.625, "color": "#dccca5"}, {"offset": 0.75, "color": "#e9e9b4"}, {"offset": 0.875, "color": "#f4f4dd"}, {"offset": 1, "color": "#ffffff"}]}},
    "encoding": {
      "x": {"field": "lo", "type": "quantitative", "scale": {"domain": [0, 9], "nice": false, "zero": false}, "axis": {"orient": "bottom", "values": [0,1,2,3,4,5,6,7,8,9], "format": "d", "labelFlush": false, "title": null, "domain": false, "ticks": false, "labelFontSize": 16, "labelPadding": 6}},
      "x2": {"field": "hi"}
    }
  },
  {
    "width": 151, "height": 14,
    "data": {"name": "cb1"},
    "mark": {"type": "rect", "stroke": "#9a9a9a", "strokeWidth": 1, "fill": {"gradient": "linear", "x1": 0, "x2": 1, "y1": 0, "y2": 0, "stops": [{"offset": 0, "color": "#1e0000"}, {"offset": 0.125, "color": "#714a4a"}, {"offset": 0.25, "color": "#9f6868"}, {"offset": 0.375, "color": "#c38080"}, {"offset": 0.5, "color": "#d0aa93"}, {"offset": 0.625, "color": "#dccca5"}, {"offset": 0.75, "color": "#e9e9b4"}, {"offset": 0.875, "color": "#f4f4dd"}, {"offset": 1, "color": "#ffffff"}]}},
    "encoding": {
      "x": {"field": "lo", "type": "quantitative", "scale": {"domain": [0, 1], "nice": false, "zero": false}, "axis": {"orient": "bottom", "values": [0, 1], "format": "d", "labelFlush": false, "title": null, "domain": false, "ticks": false, "labelFontSize": 16, "labelPadding": 6}},
      "x2": {"field": "hi"}
    }
  }
],
"columns": 5,
"spacing": {"row": 10, "column": 24},
"bounds": "flush",
"resolve": {"scale": {"color": "independent", "stroke": "independent", "fill": "independent", "shape": "independent"}, "legend": {"color": "independent", "stroke": "independent", "fill": "independent", "shape": "independent"}}
}
